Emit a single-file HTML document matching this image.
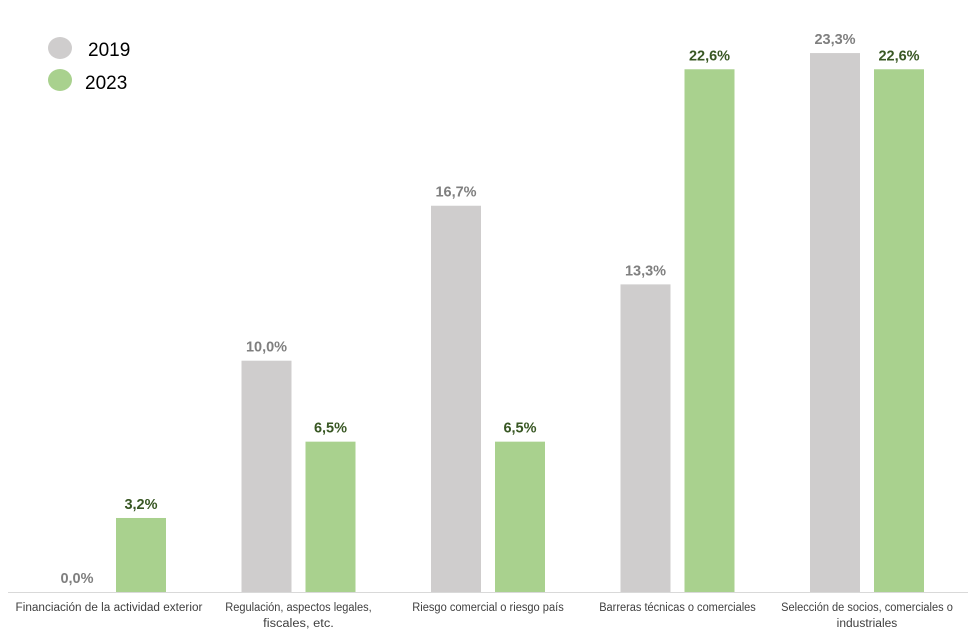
<!DOCTYPE html>
<html><head><meta charset="utf-8"><style>
body{margin:0;background:#fff;}
svg{display:block;font-family:"Liberation Sans",sans-serif;}
</style></head><body>
<svg width="976" height="638" viewBox="0 0 976 638">
<g>
<ellipse cx="60" cy="48" rx="12" ry="11" fill="#cfcdcd"/>
<text x="88" y="56" font-size="19" fill="#000">2019</text>
<ellipse cx="60" cy="80" rx="12" ry="11" fill="#a9d18e"/>
<text x="85" y="89" font-size="19" fill="#000">2023</text>
</g>
<line x1="8" y1="592.5" x2="968" y2="592.5" stroke="#d9d9d9" stroke-width="1"/>
<g id="bars"></g>
</svg>
<script>
const categories = [["Financiación de la actividad exterior"],["Regulación, aspectos legales,","fiscales, etc."],["Riesgo comercial o riesgo país"],["Barreras técnicas o comerciales"],["Selección de socios, comerciales o","industriales"]];
const values2019 = [0.0, 10.0, 16.7, 13.3, 23.3];
const values2023 = [3.2, 6.5, 6.5, 22.6, 22.6];
const labels2019 = ["0,0%","10,0%","16,7%","13,3%","23,3%"];
const labels2023 = ["3,2%","6,5%","6,5%","22,6%","22,6%"];
const NS="http://www.w3.org/2000/svg";
const g=document.getElementById('bars');
const base=592, pxPer=23.13, x0=109, step=189.5, bw=50;
const y=v=>base-v*pxPer;
function mk(t,a){const e=document.createElementNS(NS,t);for(const k in a)e.setAttribute(k,a[k]);g.appendChild(e);return e;}
categories.forEach((c,i)=>{
  const cx=x0+i*step;
  const r1=mk('rect',{x:cx-57,y:y(values2019[i]),width:bw,height:base-y(values2019[i]),fill:'#cfcdcd'});
  
  
  const r2=mk('rect',{x:cx+7,y:y(values2023[i]),width:bw,height:base-y(values2023[i]),fill:'#a9d18e'});
  
  
  const t1=mk('text',{x:cx-32,y:y(values2019[i])-9,'text-anchor':'middle','font-size':14.5,'font-weight':'bold',fill:'#7f7f7f'});
  t1.textContent=labels2019[i];
  
  
  const t2=mk('text',{x:cx+32,y:y(values2023[i])-9,'text-anchor':'middle','font-size':14.5,'font-weight':'bold',fill:'#385723'});
  t2.textContent=labels2023[i];
  
  
  c.forEach((line,j)=>{
    const tl=mk('text',{x:cx,y:611+j*16,'text-anchor':'middle','font-size':11.5,fill:'#404040',textLength:line.length*5.05,lengthAdjust:'spacingAndGlyphs'});
    tl.textContent=line;
    
    
  });
});
</script>
</body></html>
